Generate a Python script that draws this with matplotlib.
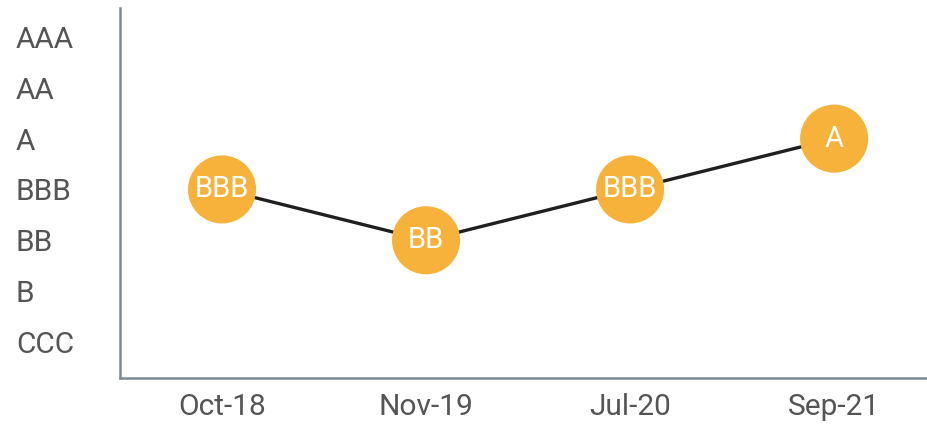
import matplotlib
matplotlib.use("Agg")
import matplotlib.pyplot as plt

# ============================================================
# DATA
# ============================================================
dates = ["Oct-18", "Nov-19", "Jul-20", "Sep-21"]
ratings = ["BBB", "BB", "BBB", "A"]
scale = ["CCC", "B", "BB", "BBB", "A", "AA", "AAA"]

# map rating -> numeric level
levels = [scale.index(r) + 1 for r in ratings]
x = list(range(len(dates)))

plt.rcParams["font.family"] = ["Roboto", "DejaVu Sans"]

fig = plt.figure(figsize=(9.28, 4.25), dpi=100)
ax = fig.add_axes([120 / 928, (425 - 378) / 425, 808 / 928, 370 / 425])

# line + rating bubbles
ax.plot(x, levels, color="#1f1f1f", linewidth=2.4, zorder=1)
ax.scatter(x, levels, s=68 ** 2 * 0.52, color="#F6B23A", edgecolors="none", zorder=2)
for xi, yi, r in zip(x, levels, ratings):
    ax.text(xi, yi, r, color="white", fontsize=21, ha="center", va="center", zorder=3)

ax.set_xlim(-0.5, 3.46)
ax.set_ylim(0.29, 7.57)

ax.set_xticks(x)
ax.set_xticklabels(dates, fontsize=21.5, color="#555555")
ax.set_yticks(range(1, len(scale) + 1))
ax.set_yticklabels(scale, fontsize=21.5, color="#555555", ha="left")
ax.tick_params(axis="y", length=0, pad=75)
ax.tick_params(axis="x", length=0, pad=11)

for side in ["top", "right"]:
    ax.spines[side].set_visible(False)
for side in ["left", "bottom"]:
    ax.spines[side].set_color("#7d8a94")
    ax.spines[side].set_linewidth(1.8)

fig.savefig("out.png", dpi=100)
